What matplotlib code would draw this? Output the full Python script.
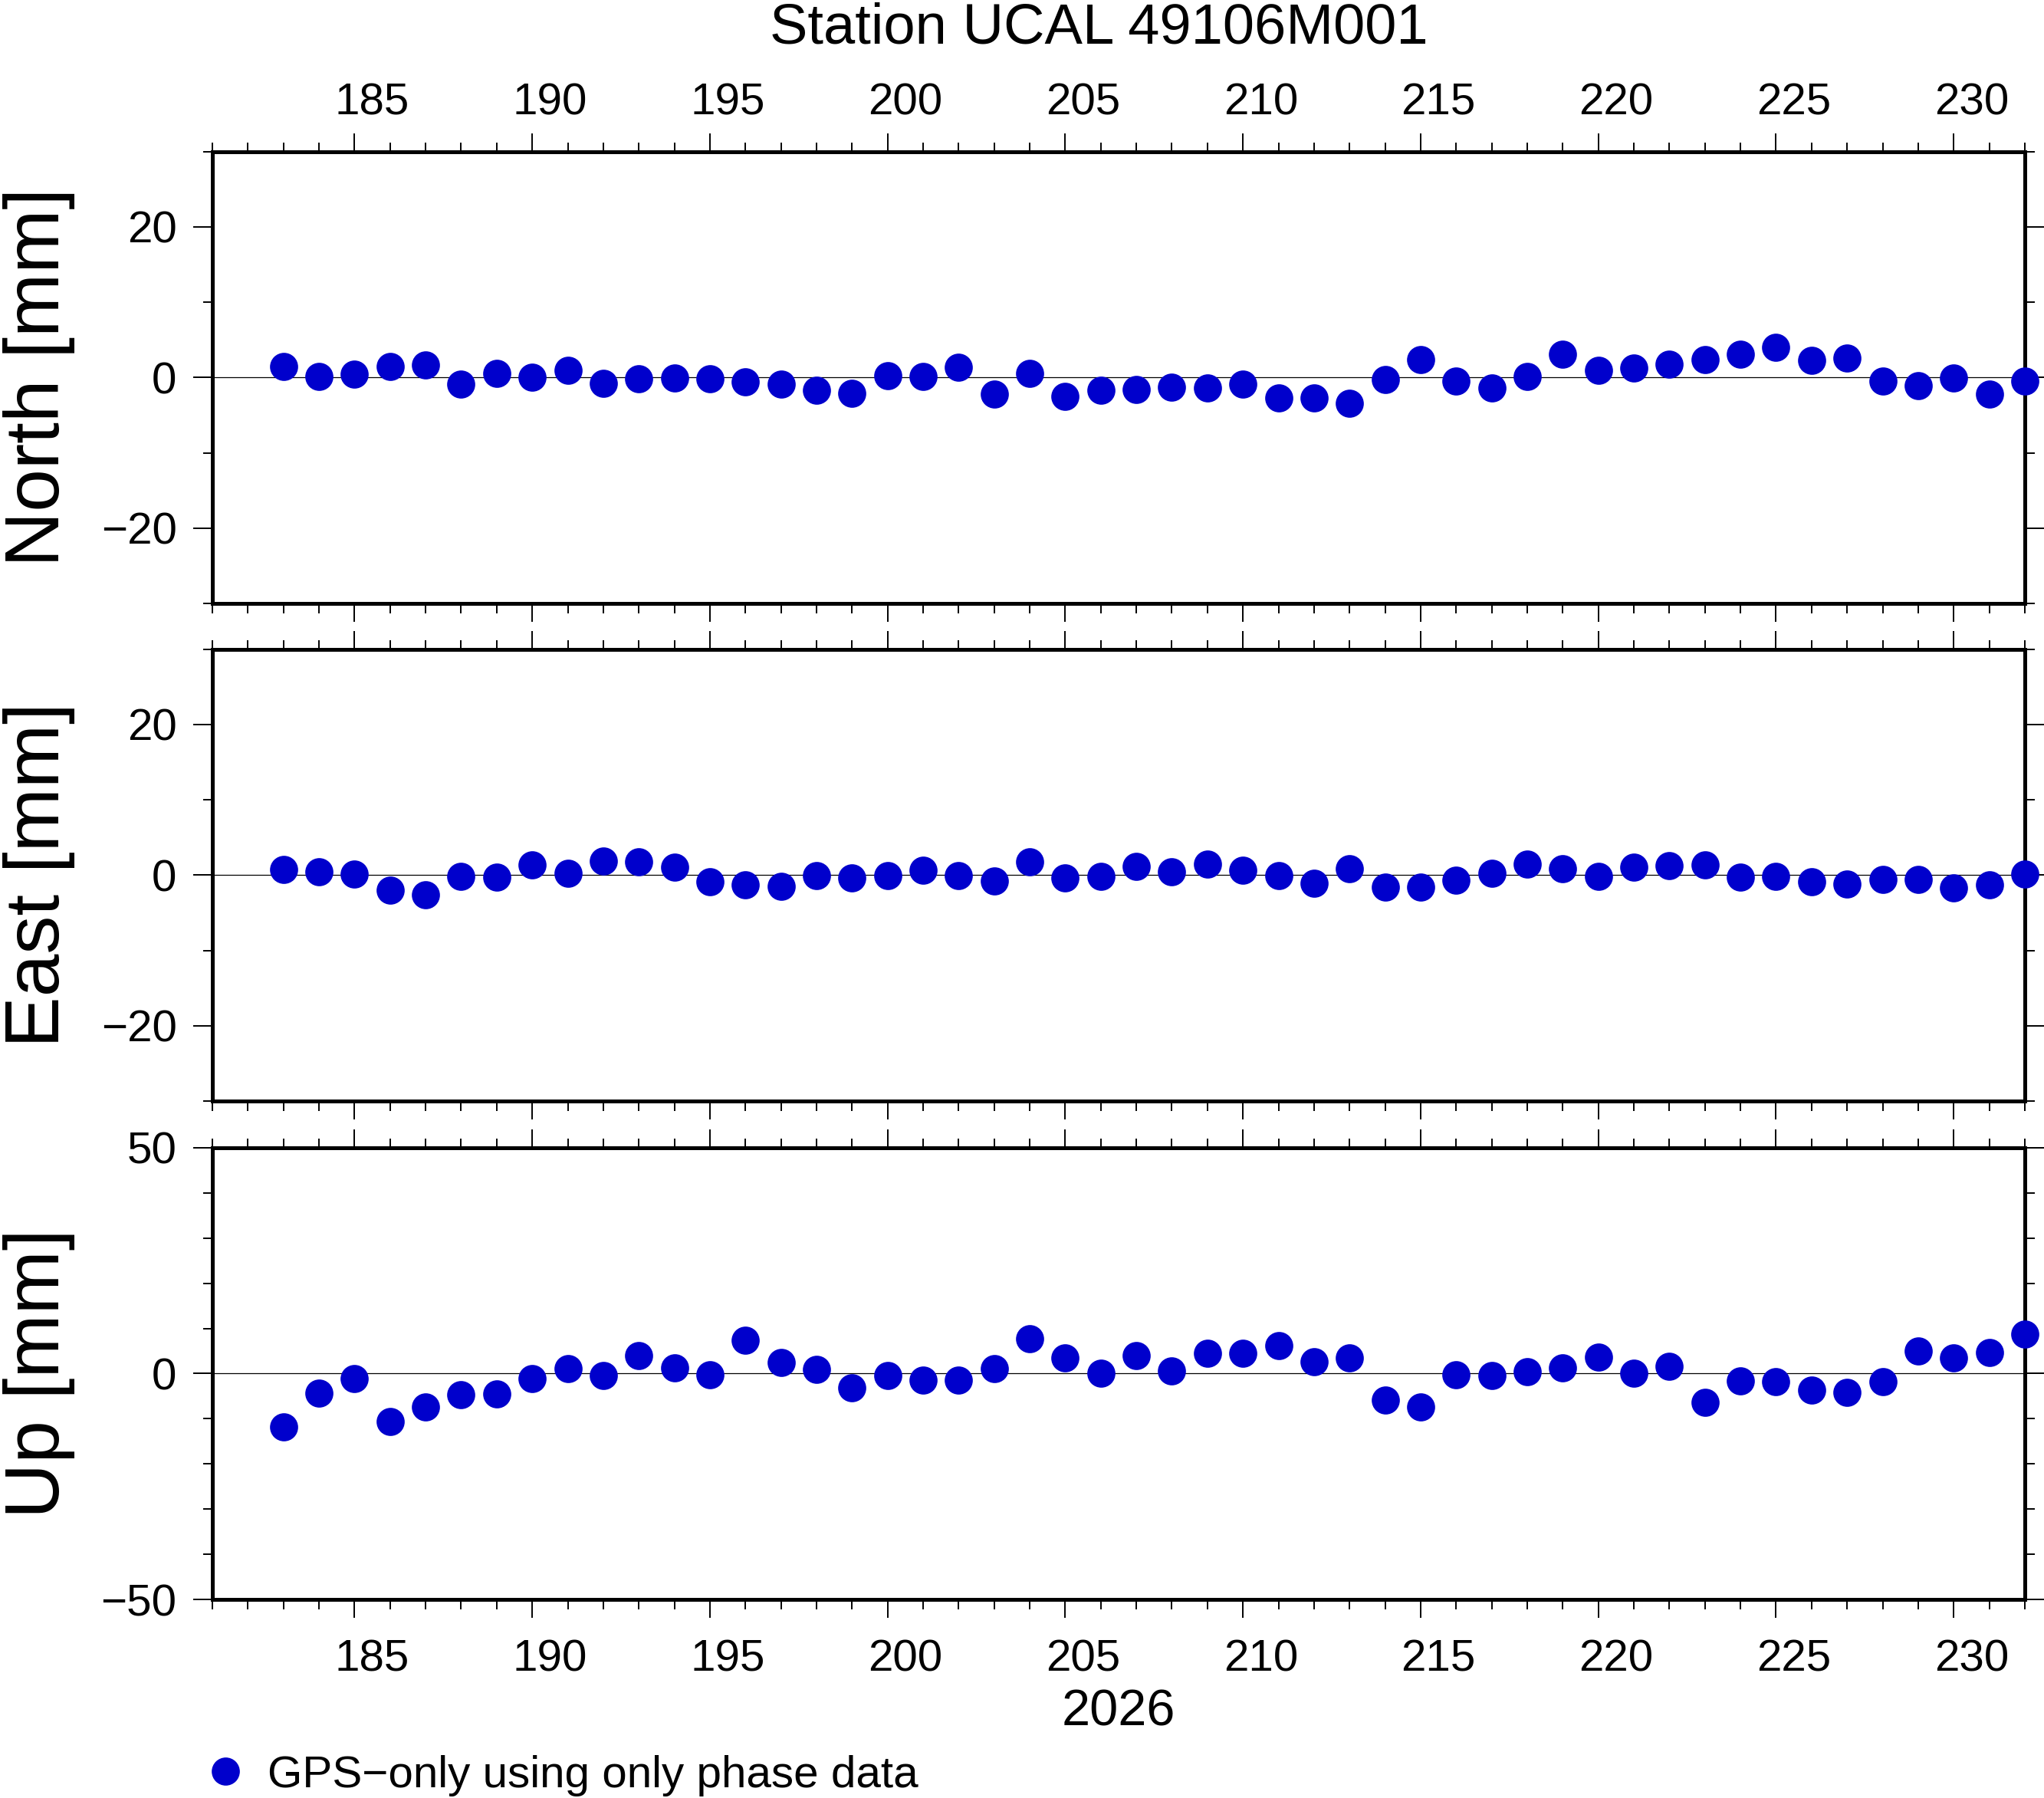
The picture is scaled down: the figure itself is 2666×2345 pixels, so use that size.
import numpy as np
import matplotlib
matplotlib.use('Agg')
import matplotlib.pyplot as plt
import matplotlib.transforms as mtransforms
from matplotlib.ticker import MultipleLocator

plt.rcParams['font.family'] = ['Liberation Sans', 'DejaVu Sans']
plt.rcParams['axes.unicode_minus'] = True

# day of year 2026, one solution per day
days = list(range(183, 233))

# residuals [mm]
north = [1.48, 0.16, 0.47, 1.48, 1.71, -0.93, 0.54, 0.04, 0.97, -0.78,
         -0.12, -0.04, -0.16, -0.62, -0.86, -1.67, -2.06, 0.27, 0.12, 1.40,
         -2.18, 0.54, -2.49, -1.67, -1.60, -1.25, -1.44, -0.93, -2.76, -2.68,
         -3.39, -0.23, 2.41, -0.43, -1.36, 0.16, 3.04, 0.97, 1.21, 1.79,
         2.41, 3.04, 4.05, 2.30, 2.61, -0.47, -1.05, -0.04, -2.18, -0.51]
east = [0.78, 0.47, 0.16, -1.95, -2.65, -0.12, -0.23, 1.40, 0.27, 1.91,
        1.79, 1.09, -0.86, -1.25, -1.44, -0.04, -0.35, -0.04, 0.66, -0.04,
        -0.74, 1.79, -0.35, -0.12, 1.21, 0.47, 1.48, 0.66, -0.04, -1.05,
        0.89, -1.56, -1.56, -0.62, 0.27, 1.48, 0.89, -0.12, 1.09, 1.28,
        1.40, -0.23, -0.12, -0.86, -1.17, -0.54, -0.54, -1.67, -1.25, 0.16]
up = [-11.88, -4.29, -1.17, -10.65, -7.47, -4.74, -4.55, -1.04, 1.17, -0.39,
      4.03, 1.30, -0.19, 7.40, 2.47, 0.97, -3.12, -0.39, -1.43, -1.43,
      1.10, 7.73, 3.51, 0.13, 4.03, 0.65, 4.55, 4.55, 6.23, 2.66,
      3.51, -5.78, -7.47, -0.19, -0.39, 0.45, 1.30, 3.70, 0.13, 1.62,
      -6.43, -1.56, -1.75, -3.57, -4.09, -1.75, 5.06, 3.51, 4.74, 8.77]

series = [north, east, up]
ylabels = ['North [mm]', 'East [mm]', 'Up [mm]']
ylims = [(-30, 30), (-30, 30), (-50, 50)]
ymajor = [20, 20, 50]
xlim = (181, 232)
day_labels = list(range(185, 231, 5))
year = '2026'
title = 'Station UCAL 49106M001'
legend_label = 'GPS\u2212only using only phase data'

dot_color = '#0000cc'

fig = plt.figure(figsize=(13.33, 11.725), dpi=200)

left, width, height = 0.1039, 0.8867, 0.2513
bottoms = [0.6644, 0.3876, 0.1104]

axes = []
for i in range(3):
    ax = fig.add_axes([left, bottoms[i], width, height])
    ax.set_xlim(*xlim)
    ax.set_ylim(*ylims[i])
    ax.xaxis.set_major_locator(MultipleLocator(5))
    ax.xaxis.set_minor_locator(MultipleLocator(1))
    ax.yaxis.set_major_locator(MultipleLocator(ymajor[i]))
    ax.yaxis.set_minor_locator(MultipleLocator(10))
    ax.tick_params(which='both', direction='out', top=True, right=True,
                   width=0.7, labelbottom=False, labelsize=21)
    ax.tick_params(axis='x', which='major', length=8.8)
    ax.tick_params(axis='x', which='minor', length=4.5)
    ax.tick_params(axis='y', which='major', length=9, pad=7.7)
    ax.tick_params(axis='y', which='minor', length=4.5)
    for sp in ax.spines.values():
        sp.set_linewidth(1.8)

    ax.axhline(0, color='black', lw=0.45, zorder=1)
    line, = ax.plot(days, series[i], 'o', ms=13.2, mew=0, color=dot_color,
                    clip_on=False, zorder=3)
    if i == 0:
        handle = line

    ax.text(-0.0848, 0.5, ylabels[i], transform=ax.transAxes, rotation=90,
            rotation_mode='anchor', ha='center', va='baseline', fontsize=36)
    axes.append(ax)

# day labels sit in the middle of the day, GMT style
for ax, yy, off in [(axes[0], 1, 17.2), (axes[2], 0, -33.5)]:
    trans = mtransforms.blended_transform_factory(ax.transData, ax.transAxes)
    for d in day_labels:
        ax.annotate(str(d), xy=(d + 0.5, yy), xycoords=trans,
                    xytext=(0, off), textcoords='offset points',
                    ha='center', va='baseline', fontsize=21)

axes[2].annotate(year, xy=(0.5, 0), xycoords='axes fraction',
                 xytext=(0, -59), textcoords='offset points',
                 ha='center', va='baseline', fontsize=24)

fig.text(0.5375, 0.9758, title, ha='center', va='baseline', fontsize=26.7)

fig.legend([handle], [legend_label], loc='lower left',
           bbox_to_anchor=(0.0993, 0.001), frameon=False, fontsize=21,
           handlelength=1.0, handletextpad=0.44, borderpad=0,
           borderaxespad=0, numpoints=1)

fig.savefig('out.png', dpi=200)
